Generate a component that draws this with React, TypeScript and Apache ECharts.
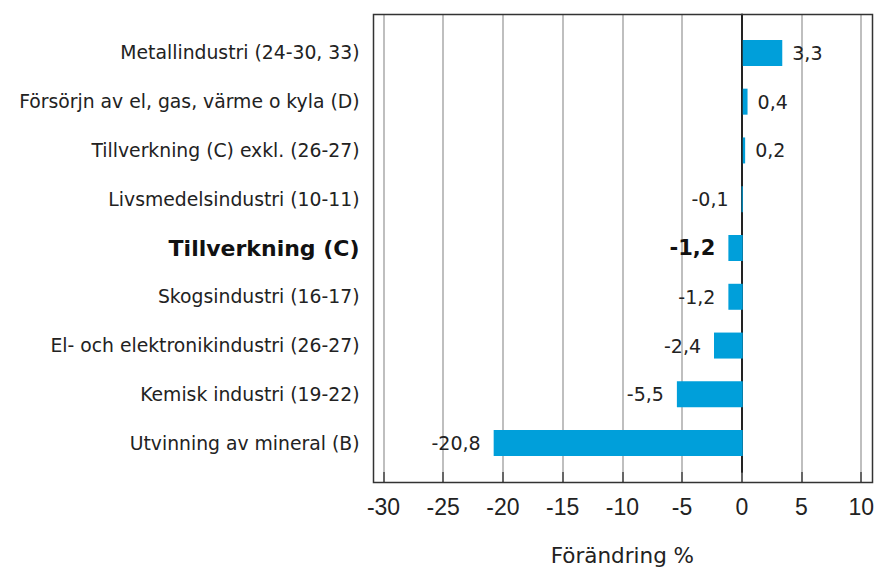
import React, { useEffect, useRef } from "react";
import * as echarts from "echarts";

const categories = [
  "Metallindustri (24-30, 33)",
  "Försörjn av el, gas, värme o kyla (D)",
  "Tillverkning (C) exkl. (26-27)",
  "Livsmedelsindustri (10-11)",
  "Tillverkning (C)",
  "Skogsindustri (16-17)",
  "El- och elektronikindustri (26-27)",
  "Kemisk industri (19-22)",
  "Utvinning av mineral (B)",
];
const values = [3.3, 0.4, 0.2, -0.1, -1.2, -1.2, -2.4, -5.5, -20.8];
const highlighted = "Tillverkning (C)";
const axisMin = -30;
const axisMax = 10;
const axisInterval = 5;
const axisTitle = "Förändring %";

const fmt = (v: number) => v.toFixed(1).replace(".", ",");

export default function App() {
  const ref = useRef<HTMLDivElement>(null);
  useEffect(() => {
    if (!ref.current) return;
    const chart = echarts.init(ref.current, null, { renderer: "svg" });
    const gridLeft = 383.5;
    const gridWidth = 479;
    const option: any = {
      animation: false,
      backgroundColor: "#ffffff",
      grid: [
        { left: gridLeft, width: gridWidth, top: 14.5, height: 468 },
        { left: gridLeft, width: gridWidth, top: 28.5, height: 439 },
      ],
      xAxis: [
        {
          type: "value",
          gridIndex: 0,
          min: axisMin,
          max: axisMax,
          interval: axisInterval,
          axisLine: { show: false },
          axisTick: {
            show: true,
            length: 11,
            lineStyle: { color: "#333", width: 1.5 },
          },
          splitLine: { show: true, lineStyle: { color: "#aaaaaa", width: 1.5 } },
          axisLabel: {
            margin: 23,
            fontFamily: "Liberation Sans",
            fontSize: 23,
            color: "#222",
            formatter: (v: number) => String(v),
          },
          name: axisTitle,
          nameLocation: "middle",
          nameGap: 72,
          nameTextStyle: { fontFamily: "DejaVu Sans", fontSize: 21.5, color: "#222" },
        },
        {
          type: "value",
          gridIndex: 1,
          min: axisMin,
          max: axisMax,
          interval: axisInterval,
          show: false,
        },
      ],
      yAxis: [
        {
          type: "value",
          gridIndex: 0,
          min: 0,
          max: 1,
          axisLine: { show: true, onZero: true, lineStyle: { color: "#222", width: 2 } },
          axisTick: { show: false },
          axisLabel: { show: false },
          splitLine: { show: false },
        },
        {
          type: "category",
          gridIndex: 1,
          data: categories,
          inverse: true,
          axisLine: { show: false },
          axisTick: { show: false },
          splitLine: { show: false },
          axisLabel: {
            margin: 24,
            fontFamily: "DejaVu Sans",
            fontSize: 18.8,
            color: "#222",
            formatter: (v: string) => (v === highlighted ? `{b|${v}}` : v),
            rich: {
              b: {
                fontFamily: "DejaVu Sans",
                fontWeight: "bold",
                fontSize: 22,
                color: "#111",
              },
            },
          },
        },
      ],
      series: [
        {
          type: "bar",
          xAxisIndex: 1,
          yAxisIndex: 1,
          barWidth: 26,
          itemStyle: { color: "#009fda" },
          data: values.map((v, i) => {
            const bold = categories[i] === highlighted;
            return {
              value: v,
              label: {
                show: true,
                position: v >= 0 ? "right" : "left",
                distance: v >= 0 ? 10 : 13,
                formatter: () => fmt(v),
                fontFamily: "DejaVu Sans",
                fontSize: bold ? 21 : 19,
                fontWeight: bold ? "bold" : "normal",
                color: bold ? "#111" : "#222",
              },
            };
          }),
        },
      ],
      graphic: [
        {
          type: "rect",
          silent: true,
          z: 100,
          shape: { x: 373.5, y: 14.5, width: 499, height: 468 },
          style: { fill: "none", stroke: "#333", lineWidth: 1.5 },
        },
      ],
    };
    chart.setOption(option);
    return () => chart.dispose();
  }, []);
  return (
    <div
      ref={ref}
      style={{ position: "fixed", left: 0, top: 0, width: 877, height: 571 }}
    />
  );
}
